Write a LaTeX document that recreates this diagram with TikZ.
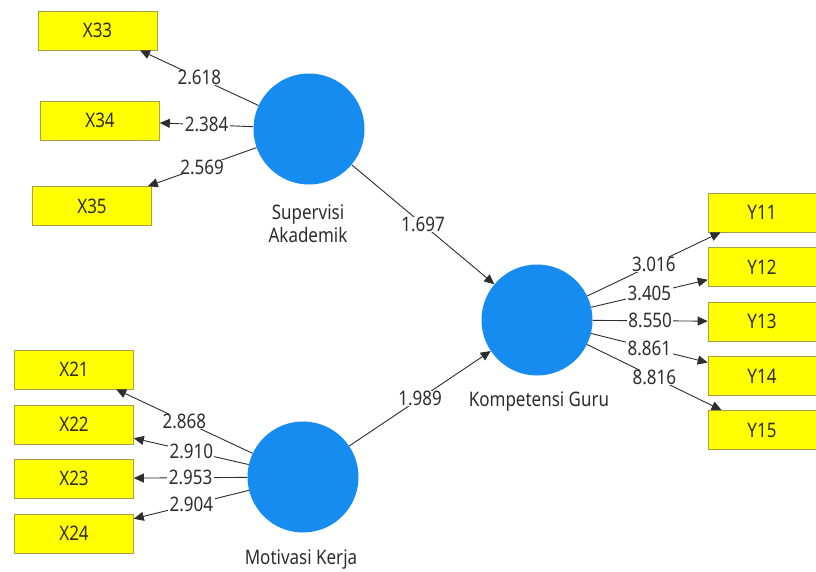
\documentclass[tikz,border=0pt]{standalone}
\usepackage{fontspec}
\setmainfont[FakeStretch=0.85]{Noto Sans}
\usetikzlibrary{arrows.meta}
\definecolor{lvblue}{RGB}{22,140,240}
\definecolor{indfill}{RGB}{255,255,0}
\definecolor{indborder}{RGB}{165,160,70}
\definecolor{ink}{RGB}{45,45,45}
\begin{document}
\begin{tikzpicture}[x=1pt,y=-1pt,
  indbox/.style={rectangle, fill=indfill, draw=indborder, line width=0.6pt,
    minimum width=119pt, minimum height=39pt, inner sep=0pt,
    font=\fontsize{20}{22}\selectfont, text=ink},
  lv/.style={circle, fill=lvblue, minimum size=111pt, inner sep=0pt},
  lbl/.style={font=\fontsize{20}{23}\selectfont, text=ink, align=center, inner sep=0pt},
  wt/.style={fill=white, inner xsep=1.5pt, inner ysep=0pt, font=\fontsize{20}{22}\selectfont, text=ink},
  arr/.style={draw=ink, line width=0.9pt, -{Triangle[length=10pt,width=9pt]}}
]
\useasboundingbox (0,0) rectangle (816,571);
\fill[white] (0,0) rectangle (816,571);

% indicators
\node[indbox] (X33) at (97.5,30.5) {X33};
\node[indbox] (X34) at (100,120.5) {X34};
\node[indbox] (X35) at (92,206) {X35};
\node[indbox] (X21) at (74,369.5) {X21};
\node[indbox] (X22) at (74,424.5) {X22};
\node[indbox] (X23) at (74,478.5) {X23};
\node[indbox] (X24) at (74,533.5) {X24};
\node[indbox, minimum width=108pt] (Y11) at (762,212.5) {Y11};
\node[indbox, minimum width=108pt] (Y12) at (762,267) {Y12};
\node[indbox, minimum width=108pt] (Y13) at (762,321.5) {Y13};
\node[indbox, minimum width=108pt] (Y14) at (762,376) {Y14};
\node[indbox, minimum width=108pt] (Y15) at (762,430) {Y15};

% latent variables
\node[lv] (SA) at (309,129) {};
\node[lv] (MK) at (303,477) {};
\node[lv] (KG) at (537,320) {};

\node[lbl, anchor=base] (SAl) at (308,219) {Supervisi};
\node[lbl, anchor=base] (SAl2) at (308,242) {Akademik};
\node[lbl, anchor=base] (MKl) at (301,564) {Motivasi Kerja};
\node[lbl, anchor=base] (KGl) at (539,406) {Kompetensi Guru};

% outer loadings
\draw[arr] (SA) -- node[wt]{2.618} (X33);
\draw[arr] (SA) -- node[wt]{2.384} (X34);
\draw[arr] (SA) -- node[wt]{2.569} (X35);

\draw[arr] (MK) -- node[wt]{2.868} (X21);
\draw[arr] (MK) -- node[wt]{2.910} (X22);
\draw[arr] (MK) -- node[wt]{2.953} (X23);
\draw[arr] (MK) -- node[wt]{2.904} (X24);

\draw[arr] (KG) -- node[wt]{3.016} (Y11);
\draw[arr] (KG) -- node[wt]{3.405} (Y12);
\draw[arr] (KG) -- node[wt]{8.550} (Y13);
\draw[arr] (KG) -- node[wt]{8.861} (Y14);
\draw[arr] (KG) -- node[wt]{8.816} (Y15);

% structural paths
\draw[arr] (SA) -- node[wt]{1.697} (KG);
\draw[arr] (MK) -- node[wt]{1.989} (KG);
\end{tikzpicture}
\end{document}
